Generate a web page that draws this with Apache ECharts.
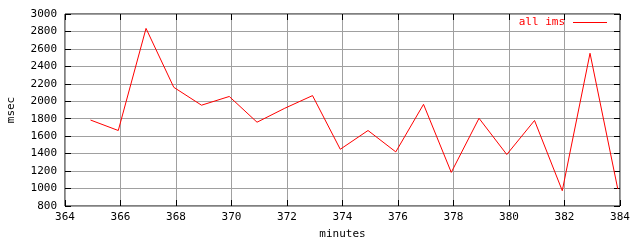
<!DOCTYPE html>
<html>
<head>
<meta charset="utf-8">
<script src="https://cdn.jsdelivr.net/npm/echarts@6/dist/echarts.min.js"></script>
<style>
html,body{margin:0;padding:0;background:#fff;}
#c{width:640px;height:240px;}
</style>
</head>
<body>
<div id="c"></div>
<script>
const minutes = [364.92,365.92,366.92,367.92,368.92,369.92,370.92,371.92,372.92,373.92,374.92,375.92,376.92,377.92,378.92,379.92,380.92,381.92,382.92,383.92];
const allIms = [1785,1665,2835,2160,1955,2055,1760,1920,2065,1450,1665,1420,1965,1185,1805,1390,1780,975,2550,995];
const seriesName = 'all ims';
const xTitle = 'minutes';
const yTitle = 'msec';

const font = 'DejaVu Sans Mono';
const chart = echarts.init(document.getElementById('c'), null, {renderer:'canvas'});
const tickStyle = {show:true, inside:true, length:6, lineStyle:{color:'#000', width:1}};
const split = {show:true, lineStyle:{color:'#a0a0a0', width:1}};
const plain = v => String(v);
chart.setOption({
  animation:false,
  backgroundColor:'#fff',
  grid:{left:65, right:20, top:14, bottom:34, outerBoundsMode:'none', containLabel:false,
        show:true, borderColor:'#000', borderWidth:1, backgroundColor:'transparent'},
  legend:{
    data:[seriesName], right:33, top:17, padding:0, align:'right',
    icon:'rect', itemWidth:34, itemHeight:1,
    textStyle:{color:'#ff0000', fontFamily:font, fontSize:11, padding:[0,3,0,0]}
  },
  xAxis:[{
    type:'value', min:364, max:384, interval:2,
    name:xTitle, nameLocation:'middle', nameGap:23,
    nameTextStyle:{color:'#000', fontFamily:font, fontSize:11},
    axisLine:{show:false}, axisTick:tickStyle, splitLine:split,
    axisLabel:{color:'#000', fontFamily:font, fontSize:11, margin:6, formatter:plain}
  },{
    type:'value', min:364, max:384, interval:2, position:'top',
    axisLine:{show:false}, axisTick:tickStyle, splitLine:{show:false}, axisLabel:{show:false}
  }],
  yAxis:[{
    type:'value', min:800, max:3000, interval:200,
    name:yTitle, nameLocation:'middle', nameGap:48, nameRotate:90,
    nameTextStyle:{color:'#000', fontFamily:font, fontSize:11},
    axisLine:{show:false}, axisTick:tickStyle, splitLine:split,
    axisLabel:{color:'#000', fontFamily:font, fontSize:11, margin:8, formatter:plain}
  },{
    type:'value', min:800, max:3000, interval:200, position:'right',
    axisLine:{show:false}, axisTick:tickStyle, splitLine:{show:false}, axisLabel:{show:false}
  }],
  series:[{
    name:seriesName, type:'line', showSymbol:false, symbol:'none',
    data:minutes.map((m,i)=>[m, allIms[i]]),
    lineStyle:{color:'#ff0000', width:1}, itemStyle:{color:'#ff0000'}
  }]
});
</script>
</body>
</html>
